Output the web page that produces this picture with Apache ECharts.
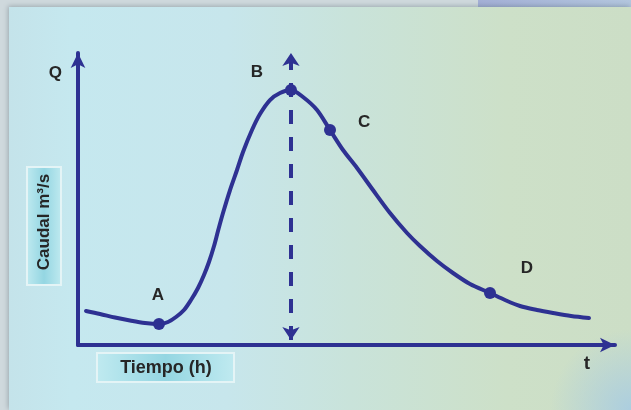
<!DOCTYPE html>
<html>
<head>
<meta charset="utf-8">
<script src="https://cdn.jsdelivr.net/npm/echarts@6/dist/echarts.min.js"></script>
<style>
  html, body { margin: 0; padding: 0; background: #cfd9dd; }
  #main { width: 631px; height: 410px; }
</style>
</head>
<body>
<div id="main"></div>
<script>
// hidrograma: caudal (Q) en el tiempo (t), unidades relativas 0-100
var tiempo = [1.49, 4.10, 6.89, 9.68, 12.48, 15.08, 16.76, 18.25, 19.74, 21.04, 22.35, 23.46, 24.39, 25.33, 26.07, 27.00,
    28.31, 29.61, 30.73, 32.40, 33.89, 35.75, 37.62, 39.66, 41.90, 44.51, 46.93, 49.35, 51.96, 54.93, 58.10, 61.27,
    63.69, 66.85, 69.83, 73.00, 76.72, 79.52, 82.31, 85.47, 88.45, 91.81, 95.16];
var caudal = [11.64, 10.62, 9.42, 8.39, 7.53, 7.19, 7.88, 9.59, 11.99, 15.41, 19.52, 23.97, 28.42, 33.90, 39.04, 45.21,
    53.08, 59.93, 66.10, 73.63, 79.11, 83.90, 86.30, 87.33, 84.93, 80.48, 73.63, 66.78, 60.62, 53.08, 45.21, 38.36,
    33.90, 28.77, 24.66, 20.89, 17.81, 15.41, 13.36, 11.99, 10.96, 9.93, 9.25];

// puntos marcados sobre la curva
var puntos = ['A', 'B', 'C', 'D'];
var puntosT = [15.08, 39.66, 46.93, 76.72];
var puntosQ = [7.19, 87.33, 73.63, 17.81];

// linea vertical del pico (t de B)
var picoDesde = 1.7;
var picoHasta = 100;

var azul = '#2e3192';
var letra = '#262626';

var curva = [];
for (var i = 0; i < tiempo.length; i++) {
    curva.push([tiempo[i], caudal[i]]);
}

var offsets = { A: [-1, -29], B: [-34, -18], C: [34, -8], D: [37, -25] };
var marcas = [];
for (var j = 0; j < puntos.length; j++) {
    marcas.push({
        name: puntos[j],
        value: [puntosT[j], puntosQ[j]],
        label: { offset: offsets[puntos[j]] }
    });
}

var cajaFill = { type: 'linear', x: 0, y: 0, x2: 1, y2: 0, colorStops: [
    { offset: 0, color: '#c0eaf0' }, { offset: 0.5, color: '#94d6e2' }, { offset: 1, color: '#c0eaf0' }] };

var myChart = echarts.init(document.getElementById('main'));
myChart.setOption({
    animation: false,
    backgroundColor: '#cfd9dd',
    grid: { left: 78, right: 16, top: 53, bottom: 65 },
    xAxis: {
        type: 'value', min: 0, max: 100,
        name: 't',
        nameLocation: 'end',
        nameGap: -28,
        nameTextStyle: {
            color: letra, fontFamily: 'Liberation Sans', fontWeight: 'bold', fontSize: 19,
            align: 'center', verticalAlign: 'top', padding: [9, 0, 0, 0]
        },
        splitLine: { show: false },
        axisTick: { show: false },
        axisLabel: { show: false },
        axisLine: {
            symbol: ['none', 'arrow'], symbolSize: [11, 15],
            lineStyle: { color: azul, width: 4 }
        }
    },
    yAxis: {
        type: 'value', min: 0, max: 100,
        name: 'Q',
        nameLocation: 'end',
        nameGap: -20,
        nameTextStyle: {
            color: letra, fontFamily: 'Liberation Sans', fontWeight: 'bold', fontSize: 17,
            align: 'right', verticalAlign: 'middle', padding: [0, 16, 0, 0]
        },
        splitLine: { show: false },
        axisTick: { show: false },
        axisLabel: { show: false },
        axisLine: {
            symbol: ['none', 'arrow'], symbolSize: [11, 15],
            lineStyle: { color: azul, width: 4 }
        }
    },
    graphic: [
        { type: 'rect', z: -10, silent: true, shape: { x: 478, y: 0, width: 153, height: 8 },
          style: { fill: { type: 'linear', x: 0, y: 0, x2: 1, y2: 0, colorStops: [
              { offset: 0, color: '#a3afd6' }, { offset: 1, color: '#b3c6de' }] } } },
        { type: 'rect', z: -9, silent: true, shape: { x: 9, y: 7, width: 622, height: 403 },
          style: {
              fill: { type: 'linear', x: 0, y: 0, x2: 1, y2: 0, colorStops: [
                  { offset: 0, color: '#c4e3ea' },
                  { offset: 0.1, color: '#c5e8ef' },
                  { offset: 0.35, color: '#c7e6ec' },
                  { offset: 0.55, color: '#c9e3da' },
                  { offset: 0.8, color: '#cde0c8' },
                  { offset: 1, color: '#ccdec6' }] },
              shadowColor: 'rgba(60,80,90,0.35)', shadowBlur: 5, shadowOffsetX: -1, shadowOffsetY: -1
          } },
        { type: 'rect', z: -8, silent: true, shape: { x: 9, y: 7, width: 622, height: 403 },
          style: { fill: { type: 'radial', x: 1, y: 1, r: 0.2, colorStops: [
              { offset: 0, color: 'rgba(168,204,226,0.9)' }, { offset: 1, color: 'rgba(168,204,226,0)' }] } } },
        { type: 'group', z: 5, silent: true, children: [
            { type: 'rect', shape: { x: 27, y: 167, width: 34, height: 118 },
              style: { stroke: '#e4f4f6', lineWidth: 2, fill: cajaFill } },
            { type: 'text', x: 44, y: 222, rotation: Math.PI / 2,
              style: { text: 'Caudal m³/s', fill: letra, fontFamily: 'Liberation Sans', fontWeight: 'bold',
                  fontSize: 17, align: 'center', verticalAlign: 'middle' } },
            { type: 'rect', shape: { x: 97, y: 353, width: 137, height: 29 },
              style: { stroke: '#e4f4f6', lineWidth: 2, fill: cajaFill } },
            { type: 'text', x: 166, y: 368,
              style: { text: 'Tiempo (h)', fill: letra, fontFamily: 'Liberation Sans', fontWeight: 'bold',
                  fontSize: 18, align: 'center', verticalAlign: 'middle' } }
        ] }
    ],
    series: [
        {
            type: 'line',
            data: curva,
            smooth: 0.3,
            showSymbol: false,
            clip: false,
            z: 2,
            lineStyle: { color: azul, width: 4, cap: 'round' },
            markLine: {
                silent: true,
                z: 3,
                symbol: ['arrow', 'arrow'],
                symbolSize: 13,
                label: { show: false },
                lineStyle: { color: azul, width: 4, type: [14, 13] },
                data: [[{ coord: [puntosT[1], picoDesde] }, { coord: [puntosT[1], picoHasta] }]]
            }
        },
        {
            type: 'scatter',
            data: marcas,
            symbolSize: 12,
            clip: false,
            itemStyle: { color: azul, opacity: 1 },
            label: {
                show: true,
                position: 'inside',
                formatter: '{b}',
                color: letra,
                fontFamily: 'Liberation Sans',
                fontWeight: 'bold',
                fontSize: 17
            },
            z: 8
        }
    ]
});
</script>
</body>
</html>
